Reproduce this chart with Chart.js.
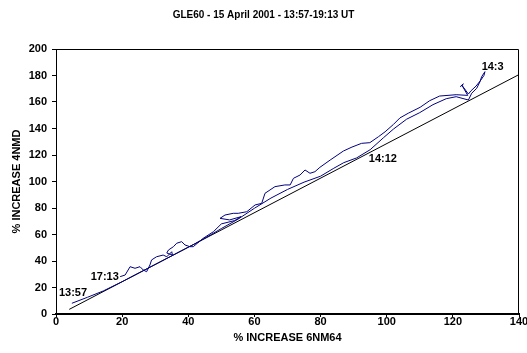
<!DOCTYPE html>
<html>
<head>
<meta charset="utf-8">
<script src="https://cdn.jsdelivr.net/npm/chart.js@4.4.1/dist/chart.umd.min.js"></script>
<style>
  html, body { margin: 0; padding: 0; background: #fff; }
  #wrap { width: 527px; height: 353px; }
</style>
</head>
<body>
<div id="wrap"><canvas id="gleChart" width="527" height="353"></canvas></div>
<script>
// 6NM64 vs 4NMD percentage increase, GLE60
const traceX = [
  4.8, 9.5, 14.3, 20, 26, 32, 38, 42, 46.6, 50, 55, 60, 65, 70, 75, 80, 84, 87, 90.9,
  95, 99, 102, 106, 110, 114, 118, 121, 124.7, 125.7, 127.2, 128.2, 128.7, 129.7,
  129.4, 128.3, 127, 125.5, 124.7, 122.7, 122.3, 123.2, 122.7, 124.5, 121, 116, 113,
  110.1, 106.5, 104, 102, 99.5, 97.5, 94.9, 92.4, 89.5, 86.9, 82.9, 79.8, 78.3, 76.8,
  75.3, 73.8, 71.8, 70.8, 69.2, 66.2, 64.7, 63.2, 62.2, 60.2, 57.7, 55.1, 53.6, 51.1,
  49.6, 52.5, 56, 54, 50, 47.6, 44.5, 41.5, 40.5, 39, 38, 36.5, 35.5, 34, 33.5, 35.2,
  35, 33.5, 32.4, 30.4, 28.9, 28.4, 27.4, 26.4, 25.4, 23.9, 22.4, 20.9, 19.4
];
const traceY = [
  8.1, 12.6, 17.4, 24.4, 32.2, 40, 47.8, 53, 59.5, 64.5, 71.5, 79.8, 87.5, 94, 99.5, 104, 110, 114.2, 117.8,
  124, 133, 139.5, 147, 152, 158, 162.5, 164, 161.5, 166.6, 170.3, 175.3, 179.1, 182.9,
  180, 176, 172, 168.5, 166, 172.8, 171.6, 173.6, 172.8, 165, 165.5, 164.5, 161,
  156, 151.5, 148, 143, 137.5, 133.8, 129.3, 128.8, 126, 123, 116.2, 110.7, 107.4, 106.2,
  108.7, 104.9, 102.4, 97.4, 97.4, 96.1, 93.6, 91.1, 83.5, 82.3, 77.2, 76, 76, 74.7,
  72.2, 71, 73.5, 70.5, 68, 62.1, 57.1, 50.8, 50.8, 52.1, 54.6, 53.4, 50.8, 48.3, 46, 44.5,
  47, 43.2, 44.5, 43.2, 40.8, 37, 31.9, 33.2, 35.7, 34.5, 35.7, 29.4, 28.2
];

// straight reference line
const fitX = [4, 140];
const fitY = [3.5, 180.7];

// time annotations
const timeLabels = ['13:57', '17:13', '14:12', '14:3'];
const labelX = [0.9, 10.5, 94.6, 128.7];
const labelY = [15.8, 27.9, 117, 186.2];

const xTicks = [0, 20, 40, 60, 80, 100, 120, 140];
const yTicks = [0, 20, 40, 60, 80, 100, 120, 140, 160, 180, 200];

const FONT = '"Liberation Sans", Arial, sans-serif';

const toPoints = (xs, ys) => xs.map((v, i) => ({ x: v, y: ys[i] }));

const framePlugin = {
  id: 'frame',
  beforeDatasetsDraw(chart) {
    const { ctx, chartArea: a } = chart;
    ctx.save();
    ctx.strokeStyle = '#000';
    ctx.lineWidth = 1;
    ctx.beginPath();
    ctx.moveTo(Math.round(a.left) + 0.5, Math.round(a.top) + 0.5);
    ctx.lineTo(Math.round(a.right) - 0.5, Math.round(a.top) + 0.5);
    ctx.lineTo(Math.round(a.right) - 0.5, Math.round(a.bottom));
    ctx.stroke();
    ctx.restore();
  }
};

const timeLabelPlugin = {
  id: 'timeLabels',
  afterDatasetsDraw(chart) {
    const { ctx, scales: { x, y } } = chart;
    ctx.save();
    ctx.font = 'bold 11px ' + FONT;
    ctx.fillStyle = '#000';
    ctx.textAlign = 'left';
    ctx.textBaseline = 'middle';
    timeLabels.forEach((t, i) => {
      ctx.fillText(t, x.getPixelForValue(labelX[i]), y.getPixelForValue(labelY[i]));
    });
    ctx.restore();
  }
};

new Chart(document.getElementById('gleChart'), {
  type: 'scatter',
  data: {
    datasets: [
      {
        data: toPoints(traceX, traceY),
        showLine: true,
        borderColor: '#000080',
        borderWidth: 1,
        pointRadius: 0,
        tension: 0
      },
      {
        data: toPoints(fitX, fitY),
        showLine: true,
        borderColor: '#000',
        borderWidth: 1,
        pointRadius: 0
      }
    ]
  },
  options: {
    responsive: false,
    animation: false,
    devicePixelRatio: 1,
    layout: { padding: 0 },
    plugins: {
      legend: { display: false },
      tooltip: { enabled: false },
      title: {
        display: true,
        text: 'GLE60 - 15 April 2001 - 13:57-19:13 UT',
        color: '#000',
        font: { family: FONT, size: 10, weight: 'bold' },
        padding: { top: 9, bottom: 28 }
      }
    },
    scales: {
      x: {
        type: 'linear',
        min: 0, max: 140,
        afterBuildTicks: s => { s.ticks = xTicks.map(v => ({ value: v })); },
        afterFit: s => { s.height = 39; s.paddingRight = 8; },
        ticks: { color: '#000', font: { family: FONT, size: 11, weight: 'bold' }, padding: -2, maxRotation: 0, autoSkip: false },
        grid: { drawOnChartArea: false, tickLength: 3, color: '#000' },
        border: { color: '#000', width: 2 },
        title: {
          display: true,
          text: '% INCREASE 6NM64',
          color: '#000',
          font: { family: FONT, size: 11, weight: 'bold' },
          padding: { top: 0, bottom: 8 }
        }
      },
      y: {
        type: 'linear',
        min: 0, max: 200,
        afterBuildTicks: s => { s.ticks = yTicks.map(v => ({ value: v })); },
        afterFit: s => { s.width = 56; },
        ticks: { color: '#000', font: { family: FONT, size: 11, weight: 'bold' }, padding: 5, autoSkip: false },
        grid: { drawOnChartArea: false, tickLength: 4, color: '#000' },
        border: { color: '#000', width: 1 },
        title: {
          display: true,
          text: '% INCREASE 4NMD',
          color: '#000',
          font: { family: FONT, size: 11, weight: 'bold' },
          padding: { top: 10, bottom: 0 }
        }
      }
    }
  },
  plugins: [framePlugin, timeLabelPlugin]
});
</script>
</body>
</html>
